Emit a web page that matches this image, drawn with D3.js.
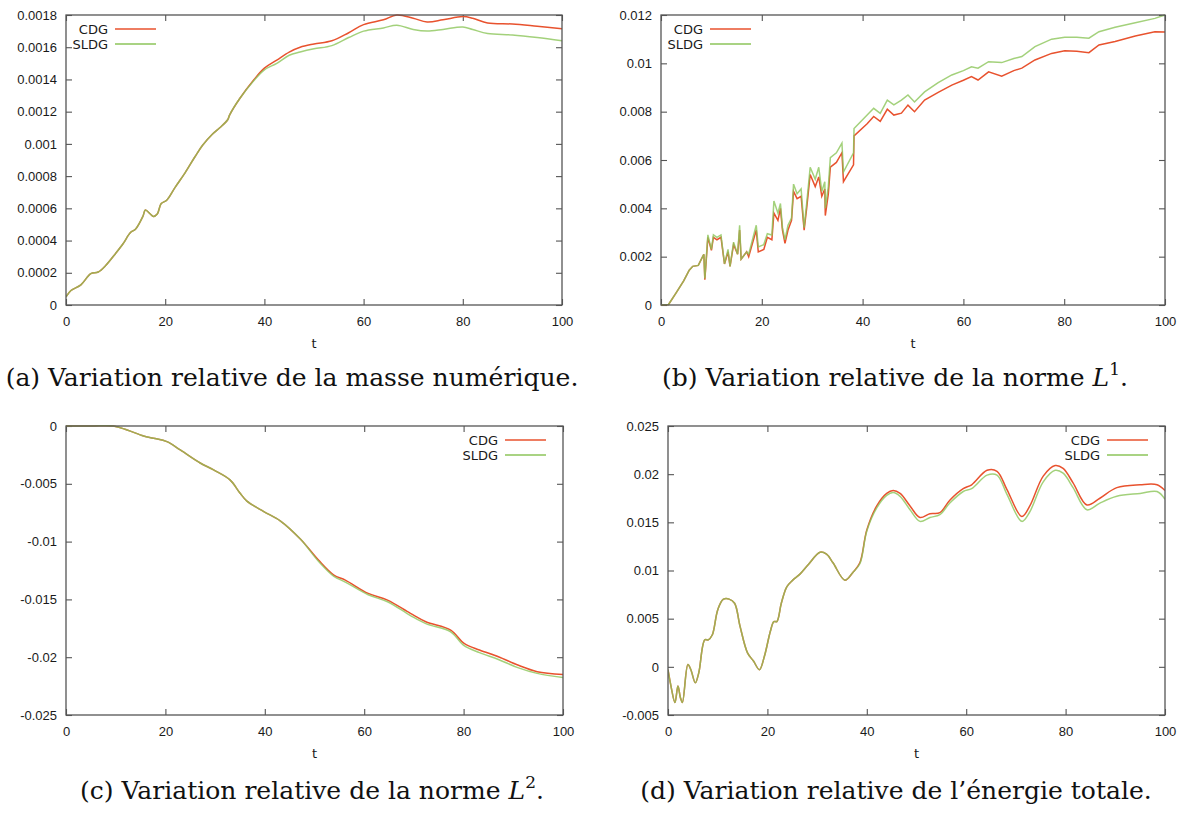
<!DOCTYPE html>
<html>
<head>
<meta charset="utf-8">
<script src="https://cdn.jsdelivr.net/npm/d3@7"></script>
<style>
  body { margin: 0; background: #fff; }
  svg { display: block; }
</style>
</head>
<body>
<div id="chart"></div>
<script>
// ---- data ----
const ticksT = [0, 20, 40, 60, 80, 100];

// (a) masse numérique
const tA = [0, 1, 3, 5, 6.5, 8, 10, 11.5, 13, 14, 15.5, 16, 17, 17.6, 18.4, 19.2, 20.3, 22, 24, 26, 27.5, 29.5, 31, 32.6, 33, 35, 37.8, 40, 42.5, 45, 47.2, 50, 53.6, 57, 60, 64, 66.7, 70, 72.8, 76, 80, 82, 85, 90, 95, 100];
const cdgA = [0.00005, 0.00009, 0.000125, 0.000195, 0.000205, 0.000245, 0.00032, 0.00038, 0.00045, 0.00047, 0.00055, 0.00059, 0.000565, 0.00055, 0.000565, 0.00063, 0.00065, 0.00073, 0.00082, 0.00092, 0.00099, 0.00106, 0.0011, 0.00115, 0.00118, 0.00128, 0.001395, 0.00147, 0.00152, 0.00157, 0.0016, 0.00162, 0.00164, 0.00169, 0.00174, 0.00177, 0.0018, 0.00178, 0.001757, 0.00177, 0.00179, 0.00178, 0.00175, 0.001744, 0.00173, 0.001715];
const sldgA = [0.00005, 0.00009, 0.000125, 0.000195, 0.000205, 0.000245, 0.00032, 0.00038, 0.00045, 0.00047, 0.00055, 0.00059, 0.000565, 0.00055, 0.000565, 0.00063, 0.00065, 0.00073, 0.00082, 0.00092, 0.00099, 0.00106, 0.0011, 0.00115, 0.00118, 0.00128, 0.00139, 0.00146, 0.0015, 0.00155, 0.00157, 0.00159, 0.00161, 0.00166, 0.0017, 0.00172, 0.001737, 0.00171, 0.0017, 0.00171, 0.001726, 0.00171, 0.001685, 0.001676, 0.00166, 0.00164];
const ticksA = [0, 0.0002, 0.0004, 0.0006, 0.0008, 0.001, 0.0012, 0.0014, 0.0016, 0.0018];

// (b) norme L1
const tB = [0, 1.5, 3, 4.5, 5.6, 6.3, 7.4, 8.5, 8.7, 9.3, 10, 10.4, 11.1, 11.9, 12.6, 13.3, 13.7, 14.4, 15.2, 15.6, 15.9, 17, 17.4, 18.9, 19.3, 20.4, 21.1, 22, 22.4, 23.2, 23.7, 24.1, 24.6, 25.2, 25.9, 26.3, 27, 27.8, 28.4, 28.9, 29.6, 30.6, 31.3, 31.9, 32.5, 32.6, 33.2, 33.6, 34.8, 35.9, 36.2, 38.2, 38.3, 40.9, 42.2, 43.5, 44.9, 46.2, 47.7, 49, 50.3, 52.3, 55, 57.7, 60, 61.6, 62.9, 65, 67.6, 70, 71.6, 74.2, 77.5, 80.1, 82.5, 84.9, 86.9, 90.1, 94.1, 98, 100];
const cdgB = [0, 0.00002, 0.0005, 0.001, 0.00144, 0.0016, 0.00164, 0.0021, 0.00105, 0.0028, 0.00226, 0.0028, 0.0027, 0.0028, 0.0017, 0.0022, 0.0016, 0.0025, 0.0021, 0.0031, 0.0019, 0.0022, 0.002, 0.0031, 0.0022, 0.0023, 0.0028, 0.0027, 0.0038, 0.0035, 0.004, 0.0031, 0.00255, 0.0031, 0.0035, 0.0047, 0.0044, 0.0045, 0.0031, 0.004, 0.0054, 0.0049, 0.0053, 0.0045, 0.0048, 0.0037, 0.0046, 0.0057, 0.0059, 0.0063, 0.0051, 0.0058, 0.007, 0.0075, 0.0078, 0.0076, 0.0081, 0.00786, 0.00794, 0.00827, 0.008, 0.00848, 0.0088, 0.0091, 0.0093, 0.00945, 0.00931, 0.00965, 0.00947, 0.0097, 0.0098, 0.01014, 0.01041, 0.01052, 0.0105, 0.01044, 0.01076, 0.0109, 0.01113, 0.01131, 0.0113];
const sldgB = [0, 0.00002, 0.0005, 0.001, 0.00144, 0.0016, 0.00164, 0.0021, 0.0011, 0.0029, 0.0023, 0.0029, 0.0028, 0.0029, 0.0017, 0.0023, 0.0016, 0.0026, 0.0021, 0.0033, 0.0019, 0.0022, 0.0021, 0.0033, 0.0024, 0.0025, 0.00295, 0.0029, 0.0043, 0.0038, 0.0042, 0.0032, 0.0027, 0.0033, 0.0036, 0.005, 0.0046, 0.0048, 0.0032, 0.0042, 0.0057, 0.0052, 0.0057, 0.0047, 0.0051, 0.004, 0.0049, 0.0061, 0.0063, 0.0067, 0.0055, 0.0063, 0.0073, 0.00786, 0.00814, 0.00793, 0.00848, 0.00828, 0.00848, 0.00869, 0.0084, 0.00882, 0.0092, 0.00952, 0.0097, 0.00986, 0.0098, 0.01007, 0.01003, 0.0102, 0.01028, 0.01069, 0.011, 0.01108, 0.01108, 0.01104, 0.01131, 0.01149, 0.01168, 0.01186, 0.012];
const ticksB = [0, 0.002, 0.004, 0.006, 0.008, 0.01, 0.012];

// (c) norme L2
const tC = [0, 5, 9.5, 12.3, 15.6, 17.6, 20.3, 23, 27, 29.7, 33, 35, 36.4, 39.8, 43.1, 47.2, 50.8, 53.9, 56.2, 60.8, 64.7, 69.3, 72.4, 77.4, 80.1, 83.2, 87, 90.9, 94.8, 100];
const cdgC = [0, 0, 0, -0.00034, -0.00086, -0.00106, -0.00135, -0.00207, -0.0032, -0.0038, -0.00466, -0.0058, -0.0065, -0.0074, -0.0082, -0.0098, -0.0116, -0.0129, -0.01333, -0.01448, -0.01506, -0.01621, -0.01693, -0.01765, -0.0188, -0.01938, -0.01996, -0.02068, -0.02125, -0.0215];
const sldgC = [0, 0, 0, -0.00034, -0.00086, -0.00106, -0.00135, -0.00207, -0.0032, -0.0038, -0.00466, -0.0058, -0.0065, -0.0074, -0.0082, -0.0098, -0.0117, -0.013, -0.0135, -0.0146, -0.0152, -0.0164, -0.0171, -0.0178, -0.019, -0.0196, -0.0202, -0.0209, -0.0214, -0.02175];
const ticksC = [0, -0.005, -0.01, -0.015, -0.02, -0.025];

// (d) énergie totale
const tD = [0, 0.6, 1.4, 2, 2.5, 2.9, 4, 4.6, 5.5, 6.2, 7.4, 8.1, 8.9, 10, 11.1, 12.3, 13.4, 14.5, 16, 17.2, 18.4, 19.4, 20.6, 21.3, 21.9, 22.8, 23.9, 25.1, 26.5, 28.2, 30.6, 31.9, 33.2, 35.6, 37.2, 38.6, 40, 42, 44, 45.3, 46.7, 48.7, 50.7, 52.7, 54.7, 56.7, 59.4, 61.1, 64.2, 66.2, 68.2, 71.2, 72.8, 75.5, 77.9, 79.5, 81.5, 84.3, 86.9, 90.3, 95, 98.4, 100];
const cdgD = [-0.0003, -0.002, -0.0037, -0.002, -0.0032, -0.0037, 0.00024, -0.0003, -0.00166, -0.0006, 0.0028, 0.0028, 0.0033, 0.0059, 0.007, 0.00703, 0.0066, 0.0042, 0.00145, 0.0006, -0.0003, 0.0011, 0.0037, 0.0047, 0.0047, 0.0066, 0.0083, 0.009, 0.0096, 0.0106, 0.0119, 0.0117, 0.0108, 0.009, 0.0098, 0.0108, 0.0142, 0.0167, 0.018, 0.0183, 0.018, 0.0167, 0.0155, 0.0159, 0.016, 0.0173, 0.0185, 0.0189, 0.0204, 0.0203, 0.0184, 0.0156, 0.0167, 0.0198, 0.0209, 0.0206, 0.0191, 0.0168, 0.0175, 0.0186, 0.0189, 0.0189, 0.0183];
const sldgD = [-0.0003, -0.002, -0.0037, -0.002, -0.0032, -0.0037, 0.00024, -0.0003, -0.00166, -0.0006, 0.0028, 0.0028, 0.0033, 0.0059, 0.007, 0.00703, 0.0066, 0.0042, 0.00145, 0.0006, -0.0003, 0.0011, 0.0037, 0.0047, 0.0047, 0.0066, 0.0083, 0.009, 0.0096, 0.0106, 0.0119, 0.0117, 0.0108, 0.009, 0.0098, 0.0107, 0.0141, 0.0165, 0.0178, 0.0181, 0.0177, 0.0163, 0.0151, 0.0155, 0.0158, 0.017, 0.0182, 0.0185, 0.0199, 0.0199, 0.0179, 0.0151, 0.0161, 0.0192, 0.0204, 0.0201, 0.0186, 0.0163, 0.017, 0.0177, 0.018, 0.0182, 0.0174];
const ticksD = [-0.005, 0, 0.005, 0.01, 0.015, 0.02, 0.025];

const seriesNames = ["CDG", "SLDG"];
const seriesColors = ["#e8522e", "#8cc55a"];

// ---- layout ----
const W = 1185, H = 814;
const panels = [
  { box: [66, 562, 15, 305], t: tA, ys: [cdgA, sldgA], ticks: ticksA, legend: "left", curve: d3.curveCatmullRom,
    letter: "a", caption: "Variation relative de la masse numérique.", sup: null, cx: 292, cy: 386 },
  { box: [661, 1165, 15, 305], t: tB, ys: [cdgB, sldgB], ticks: ticksB, legend: "left", curve: d3.curveLinear,
    letter: "b", caption: "Variation relative de la norme ", sup: "1", cx: 895, cy: 386 },
  { box: [66, 563, 426, 715], t: tC, ys: [cdgC, sldgC], ticks: ticksC, legend: "right", curve: d3.curveCatmullRom,
    letter: "c", caption: "Variation relative de la norme ", sup: "2", cx: 312, cy: 799 },
  { box: [668, 1165, 426, 715], t: tD, ys: [cdgD, sldgD], ticks: ticksD, legend: "right", curve: d3.curveCatmullRom,
    letter: "d", caption: "Variation relative de l\u2019\u00e9nergie totale.", sup: null, cx: 896, cy: 799 }
];

const svg = d3.select("#chart").append("svg")
  .attr("width", W).attr("height", H)
  .style("font-family", "'DejaVu Sans', sans-serif");

const fmt = v => String(+v.toFixed(6));
const frameColor = "#555";
const labelSize = "13px";

const captions = [];

panels.forEach((p, i) => {
  const [x0, x1, y0, y1] = p.box;
  const x = d3.scaleLinear().domain([0, 100]).range([x0, x1]);
  const y = d3.scaleLinear().domain(d3.extent(p.ticks)).range([y1, y0]);
  const g = svg.append("g");

  // clip for curves
  const clipId = "clip" + i;
  svg.append("clipPath").attr("id", clipId)
    .append("rect").attr("x", x0).attr("y", y0 - 1).attr("width", x1 - x0).attr("height", y1 - y0 + 2);

  // axes with inward ticks (mirrored)
  const styleAxis = sel => {
    sel.select(".domain").remove();
    sel.selectAll(".tick line").attr("stroke", frameColor).attr("stroke-width", 1.1);
    sel.selectAll(".tick text").attr("fill", "#1a1a1a").style("font-size", labelSize);
  };
  g.append("g").attr("transform", `translate(0,${y1})`)
    .call(d3.axisBottom(x).tickValues(ticksT).tickSizeInner(-6).tickSizeOuter(0).tickPadding(12).tickFormat(fmt))
    .call(styleAxis);
  g.append("g").attr("transform", `translate(0,${y0})`)
    .call(d3.axisTop(x).tickValues(ticksT).tickSizeInner(-6).tickSizeOuter(0).tickFormat(""))
    .call(styleAxis);
  g.append("g").attr("transform", `translate(${x0},0)`)
    .call(d3.axisLeft(y).tickValues(p.ticks).tickSizeInner(-6).tickSizeOuter(0).tickPadding(9).tickFormat(fmt))
    .call(styleAxis);
  g.append("g").attr("transform", `translate(${x1},0)`)
    .call(d3.axisRight(y).tickValues(p.ticks).tickSizeInner(-6).tickSizeOuter(0).tickFormat(""))
    .call(styleAxis);

  // curves
  const line = d3.line().x(d => x(d[0])).y(d => y(d[1])).curve(p.curve);
  p.ys.forEach((vals, k) => {
    g.append("path")
      .datum(p.t.map((t, j) => [t, vals[j]]))
      .attr("clip-path", `url(#${clipId})`)
      .attr("fill", "none")
      .attr("stroke", seriesColors[k])
      .attr("stroke-width", 1.5)
      .attr("stroke-opacity", k === 1 ? 0.8 : 1)
      .attr("d", line);
  });

  // frame
  g.append("rect")
    .attr("x", x0).attr("y", y0).attr("width", x1 - x0).attr("height", y1 - y0)
    .attr("fill", "none").attr("stroke", frameColor).attr("stroke-width", 1.3);

  // x label
  g.append("text").attr("x", (x0 + x1) / 2).attr("y", y1 + 43)
    .attr("text-anchor", "middle").attr("fill", "#1a1a1a").style("font-size", labelSize).text("t");

  // legend
  const lx = p.legend === "left" ? x0 + 42 : x1 - 65;
  seriesNames.forEach((name, k) => {
    const ly = y0 + 14 + k * 15;
    g.append("text").attr("x", lx).attr("y", ly).attr("dy", "0.35em")
      .attr("text-anchor", "end").attr("fill", "#1a1a1a").style("font-size", labelSize).text(name);
    g.append("line").attr("x1", lx + 7).attr("x2", lx + 48).attr("y1", ly).attr("y2", ly)
      .attr("stroke", seriesColors[k]).attr("stroke-width", 1.5);
  });

  // caption
  const cap = svg.append("text").attr("x", p.cx).attr("y", p.cy)
    .attr("text-anchor", "middle").attr("fill", "#111")
    .style("font-family", "'DejaVu Serif', serif").style("font-size", "24px");
  cap.append("tspan").text(`(${p.letter}) ${p.caption}`);
  if (p.sup) {
    cap.append("tspan").style("font-style", "italic").text("L");
    cap.append("tspan").attr("class", "sup").text(p.sup);
    cap.append("tspan").attr("class", "after").text(".");
  }
  captions.push(cap);
});

// fit caption size to the width of caption (a)
const target = 573;
const len = captions[0].node().getComputedTextLength();
const size = 24 * target / len;
captions.forEach(c => {
  c.style("font-size", size + "px");
  c.select(".sup").style("font-size", (size * 0.68) + "px").attr("dy", -size * 0.42);
  c.select(".after").attr("dy", size * 0.42);
});
</script>
</body>
</html>
